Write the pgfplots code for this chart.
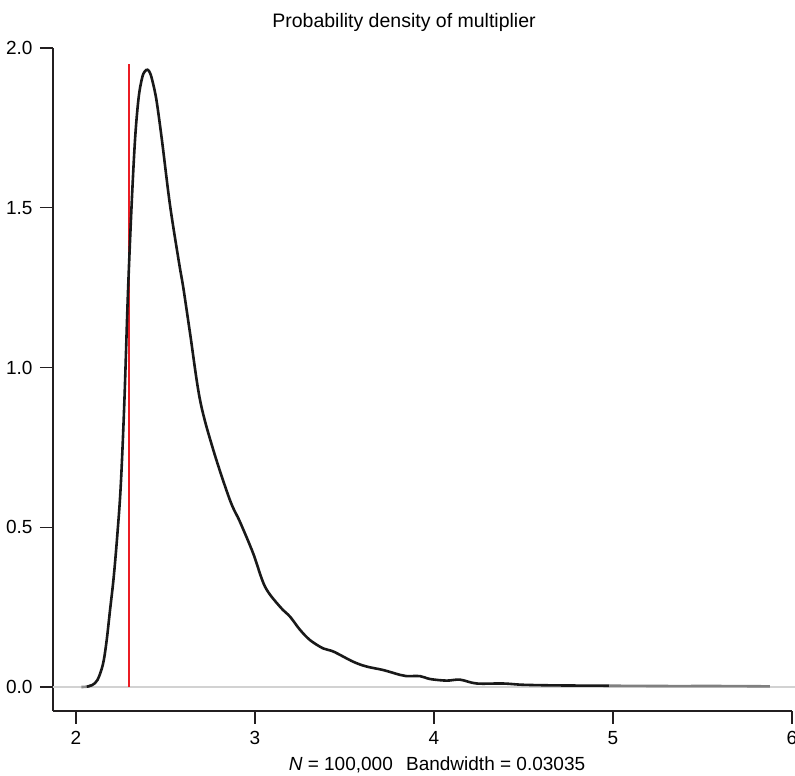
\documentclass[border=0pt]{standalone}
\usepackage{pgfplots}
\pgfplotsset{compat=1.18}
\usepackage{fontspec}
\setmainfont{Liberation Sans}
\definecolor{redline}{RGB}{235,28,36}
\definecolor{zerogrey}{RGB}{210,210,210}
\definecolor{axisgrey}{RGB}{35,31,32}
\begin{document}
\begin{tikzpicture}
\begin{axis}[
  scale only axis,
  width=739pt, height=663pt,
  xmin=1.8715, xmax=6,
  ymin=-0.0751, ymax=2.0,
  axis x line*=bottom, axis y line*=left,
  axis line style={-, line width=1.1pt, color=axisgrey},
  every tick/.style={line width=1.1pt, color=axisgrey},
  tick align=outside,
  major tick length=13pt,
  xtick={2,3,4,5,6},
  ytick={0,0.5,1,1.5,2},
  yticklabel style={xshift=-4pt, /pgf/number format/.cd, fixed, fixed zerofill, precision=1},
  xticklabel style={yshift=-4pt},
  /pgf/number format/assume math mode=true,
  tick label style={font=\fontsize{19}{22}\selectfont},
  clip=false,
]
\draw[zerogrey, line width=1.5pt] (axis cs:1.8715,0) -- (axis cs:6.02,0);
\addplot[redline, line width=1.8pt] coordinates {(2.294,0) (2.294,1.949)};
\addplot[black!45, line width=2.6pt, smooth] coordinates {
(2.03,0.000) (2.06,0.001) (2.09,0.006)
};
\addplot[black!90, line width=2.6pt, smooth, tension=0.55] coordinates {
(2.06,0.001) (2.09,0.006) (2.12,0.022) (2.15,0.070) (2.17,0.140) (2.19,0.24)
(2.21,0.34) (2.23,0.47) (2.25,0.63) (2.27,0.89) (2.29,1.23) (2.31,1.50)
(2.33,1.715) (2.35,1.845) (2.37,1.908) (2.385,1.927) (2.40,1.932) (2.415,1.920)
(2.43,1.890) (2.45,1.835) (2.48,1.712) (2.525,1.509) (2.575,1.33) (2.60,1.248)
(2.637,1.108) (2.693,0.898) (2.767,0.742) (2.86,0.585) (2.916,0.517)
(2.99,0.418) (3.056,0.314) (3.14,0.251) (3.196,0.22) (3.25,0.18)
(3.307,0.147) (3.38,0.121) (3.438,0.111) (3.549,0.079) (3.624,0.064)
(3.717,0.053) (3.81,0.038) (3.847,0.034) (3.922,0.034) (3.978,0.025)
(4.07,0.020) (4.145,0.023) (4.238,0.011) (4.385,0.011) (4.497,0.007)
(4.685,0.005) (4.98,0.004)
};
\addplot[black!50, line width=2.6pt, smooth] coordinates {
(4.98,0.004) (5.3,0.003) (5.6,0.003) (5.877,0.002)
};
\coordinate (sw) at (rel axis cs:0,0);
\end{axis}
\node[font=\fontsize{19.5}{22}\selectfont] at ([shift={(351pt,689pt)}]sw) {Probability density of multiplier};
\node[font=\fontsize{19}{22}\selectfont] at ([shift={(384pt,-54pt)}]sw) {\textit{N} = 100,000\hspace{0.7em}Bandwidth = 0.03035};
\pgfresetboundingbox
\useasboundingbox ([shift={(-53pt,-65pt)}]sw) rectangle ([shift={(742pt,711pt)}]sw);
\end{tikzpicture}
\end{document}
